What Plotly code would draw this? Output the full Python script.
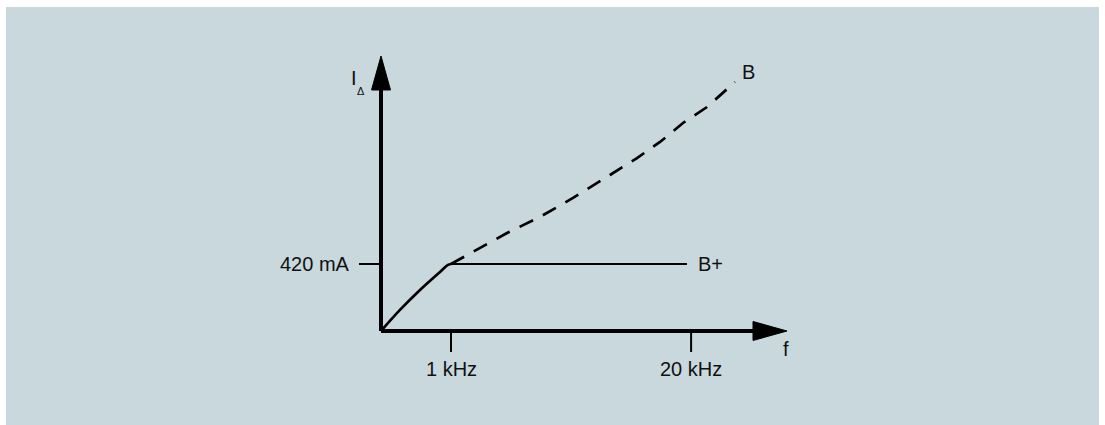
import plotly.graph_objects as go

# Schematic tripping-current characteristic of an RCD (type B vs. B+)
# x: schematic frequency position (1 kHz tick = 1), y: tripping current in mA

# rising part, common to both characteristics
rise_x = [0.0, 0.271, 0.557, 0.843, 0.957, 1.0]
rise_y = [0, 132, 257, 370, 414, 420]

# B+ : limited to 420 mA up to 20 kHz
bplus_x = [1.0, 4.371]
bplus_y = [420, 420]

# B : keeps rising with frequency
b_x = [1.0, 1.414, 1.8, 2.271, 2.743, 3.271, 3.657, 3.986, 4.314, 4.657, 5.057]
b_y = [420, 520, 614, 715, 834, 978, 1084, 1185, 1304, 1404, 1561]

tick_x = [1.0, 4.43]
tick_x_labels = ["1 kHz", "20 kHz"]
tick_y = [420]
tick_y_labels = ["420 mA"]

# axis extents
x_axis_end = 5.8
y_axis_end = 1724

W, H = 1105, 425
X_RANGE = [-5.443, 10.343]
Y_RANGE = [-589.3, 2074.9]
px_x = (X_RANGE[1] - X_RANGE[0]) / W   # x units per pixel
px_y = (Y_RANGE[1] - Y_RANGE[0]) / H   # y units per pixel

INK = "#000000"
FONT = dict(family="Liberation Sans, Arial, sans-serif", size=20, color="#111111")
FONT_SMALL = dict(family="Liberation Sans, Arial, sans-serif", size=11, color="#111111")

fig = go.Figure()

# axes with arrowheads
head_len, head_half = 34, 9.5
fig.add_trace(go.Scatter(x=[0, 0], y=[0, y_axis_end - head_len * px_y], mode="lines",
                         line=dict(color=INK, width=4), hoverinfo="skip"))
fig.add_trace(go.Scatter(x=[0, x_axis_end - head_len * px_x], y=[0, 0], mode="lines",
                         line=dict(color=INK, width=4), hoverinfo="skip"))
fig.add_trace(go.Scatter(
    x=[-head_half * px_x, head_half * px_x, 0, -head_half * px_x],
    y=[y_axis_end - head_len * px_y] * 2 + [y_axis_end, y_axis_end - head_len * px_y],
    fill="toself", fillcolor=INK, mode="lines", line=dict(color=INK, width=1), hoverinfo="skip"))
fig.add_trace(go.Scatter(
    x=[x_axis_end - head_len * px_x] * 2 + [x_axis_end, x_axis_end - head_len * px_x],
    y=[-head_half * px_y, head_half * px_y, 0, -head_half * px_y],
    fill="toself", fillcolor=INK, mode="lines", line=dict(color=INK, width=1), hoverinfo="skip"))

# tick marks
for tx in tick_x:
    fig.add_trace(go.Scatter(x=[tx, tx], y=[0, -21 * px_y], mode="lines",
                             line=dict(color=INK, width=2), hoverinfo="skip"))
for ty in tick_y:
    fig.add_trace(go.Scatter(x=[-22 * px_x, 0], y=[ty, ty], mode="lines",
                             line=dict(color=INK, width=2), hoverinfo="skip"))

# characteristics
fig.add_trace(go.Scatter(x=b_x, y=b_y, mode="lines",
                         line=dict(color=INK, width=2.7, dash="15px,11px"), hoverinfo="skip"))
fig.add_trace(go.Scatter(x=rise_x, y=rise_y, mode="lines", line_shape="spline",
                         line=dict(color=INK, width=2.7), hoverinfo="skip"))
fig.add_trace(go.Scatter(x=bplus_x, y=bplus_y, mode="lines",
                         line=dict(color=INK, width=2), hoverinfo="skip"))

annotations = []
for tx, lab in zip(tick_x, tick_x_labels):
    annotations.append(dict(x=tx, y=-38 * px_y, text=lab, showarrow=False,
                            xanchor="center", yanchor="middle", font=FONT))
for ty, lab in zip(tick_y, tick_y_labels):
    annotations.append(dict(x=-29 * px_x, y=ty, text=lab, showarrow=False,
                            xanchor="right", yanchor="middle", font=FONT))
annotations += [
    dict(x=bplus_x[-1] + 9 * px_x, y=bplus_y[-1], text="B+", showarrow=False,
         xanchor="left", yanchor="middle", font=FONT),
    dict(x=b_x[-1] + 5 * px_x, y=b_y[-1] + 10 * px_y, text="B", showarrow=False,
         xanchor="left", yanchor="middle", font=FONT),
    dict(x=x_axis_end - 1 * px_x, y=-18 * px_y, text="f", showarrow=False,
         xanchor="center", yanchor="middle", font=FONT),
    # axis title: I with subscript Δ
    dict(x=-27 * px_x, y=y_axis_end - 22 * px_y, text="I", showarrow=False,
         xanchor="center", yanchor="middle", font=FONT),
    dict(x=-20 * px_x, y=y_axis_end - 35 * px_y, text="Δ", showarrow=False,
         xanchor="center", yanchor="middle", font=FONT_SMALL),
]

fig.update_layout(
    width=W, height=H,
    margin=dict(l=0, r=0, t=0, b=0),
    paper_bgcolor="#ffffff",
    plot_bgcolor="rgba(0,0,0,0)",
    showlegend=False,
    xaxis=dict(range=X_RANGE, visible=False, fixedrange=True),
    yaxis=dict(range=Y_RANGE, visible=False, fixedrange=True),
    annotations=annotations,
    shapes=[dict(type="rect", xref="paper", yref="paper", layer="below",
                 x0=6 / W, x1=1099 / W, y0=0, y1=1 - 7 / H,
                 fillcolor="#c9d8dd", line=dict(width=0))],
)

fig.write_html("out.html", config={"displayModeBar": False})
